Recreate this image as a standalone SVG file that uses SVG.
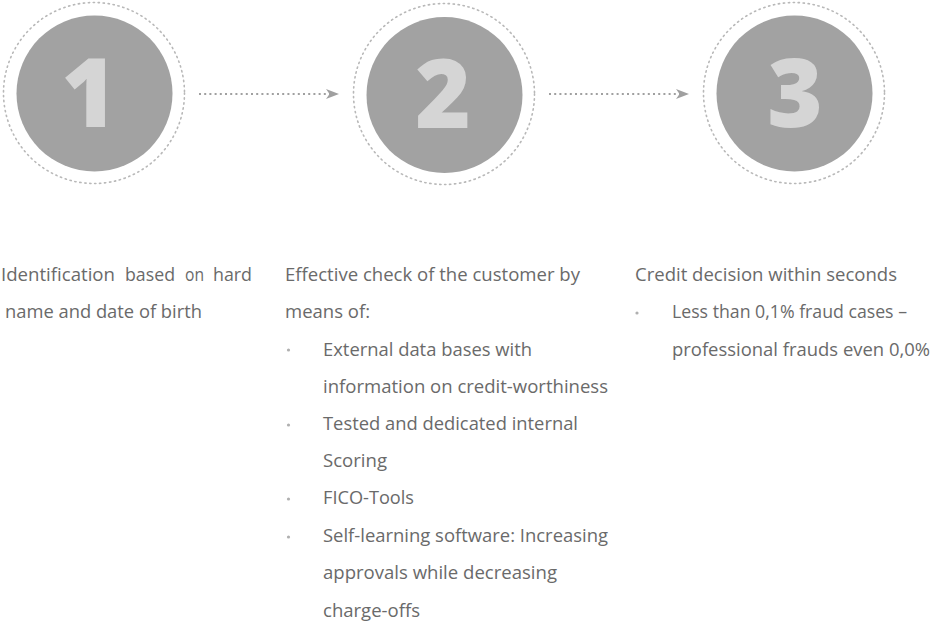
<svg xmlns="http://www.w3.org/2000/svg" width="930" height="621" viewBox="0 0 930 621">
  <style>
    .ring { fill: none; stroke: #b8b8b8; stroke-width: 1.6; stroke-dasharray: 1.3 3.7; stroke-linecap: round; }
    .disc { fill: #a2a2a2; }
    .num { font-family: "Open Sans", "Liberation Sans", sans-serif; font-weight: 800; font-size: 95px; fill: #d5d5d5; text-anchor: middle; }
    .txt { font-family: "Open Sans", "Liberation Sans", sans-serif; font-size: 18.5px; fill: #6a6a6a; }
    .dot { fill: #b0b0b0; }
    .link { fill: none; stroke: #a0a0a0; stroke-width: 2; stroke-dasharray: 2 3.2; }
  </style>
  <defs>
    <marker id="arrow" markerUnits="userSpaceOnUse" markerWidth="16" markerHeight="12" refX="13" refY="6" orient="auto">
      <path d="M0,1 L13,6 L0,11 L3.5,6 Z" fill="#a0a0a0"/>
    </marker>
  </defs>

  <rect width="930" height="621" fill="#ffffff"/>

  <!-- connectors between the steps -->
  <g id="connectors">
    <line class="link" x1="199" y1="94" x2="339" y2="94" marker-end="url(#arrow)"/>
    <line class="link" x1="549" y1="94" x2="689" y2="94" marker-end="url(#arrow)"/>
  </g>

  <!-- step 1 -->
  <g id="step1">
    <circle class="ring" cx="94" cy="93" r="90.5"/>
    <circle class="disc" cx="94.5" cy="93.5" r="78"/>
    <text class="num" x="89" y="127">1</text>
  </g>

  <!-- step 2 -->
  <g id="step2">
    <circle class="ring" cx="444" cy="94" r="90.5"/>
    <circle class="disc" cx="444.5" cy="95" r="78"/>
    <text class="num" x="443" y="128">2</text>
  </g>

  <!-- step 3 -->
  <g id="step3">
    <circle class="ring" cx="794" cy="93" r="90.5"/>
    <circle class="disc" cx="794.5" cy="93.5" r="78"/>
    <text class="num" x="795" y="127">3</text>
  </g>

  <!-- step 1 description (justified first line) -->
  <g id="text1" class="txt" lengthAdjust="spacingAndGlyphs">
    <text x="1" y="281" textLength="114" lengthAdjust="spacingAndGlyphs">Identification</text>
    <text x="125" y="281" textLength="50" lengthAdjust="spacingAndGlyphs">based</text>
    <text x="185" y="281" textLength="19" lengthAdjust="spacingAndGlyphs">on</text>
    <text x="213" y="281" textLength="39" lengthAdjust="spacingAndGlyphs">hard</text>
    <text x="5" y="318" textLength="197" lengthAdjust="spacingAndGlyphs">name and date of birth</text>
  </g>

  <!-- step 2 description -->
  <g id="text2" class="txt">
    <text x="285" y="281" textLength="295" lengthAdjust="spacingAndGlyphs">Effective check of the customer by</text>
    <text x="285" y="318" textLength="85" lengthAdjust="spacingAndGlyphs">means of:</text>
    <circle class="dot" cx="288.5" cy="350" r="1.6"/>
    <text x="323" y="356" textLength="209" lengthAdjust="spacingAndGlyphs">External data bases with</text>
    <text x="323" y="393" textLength="285" lengthAdjust="spacingAndGlyphs">information on credit-worthiness</text>
    <circle class="dot" cx="288.5" cy="425" r="1.6"/>
    <text x="323" y="430" textLength="255" lengthAdjust="spacingAndGlyphs">Tested and dedicated internal</text>
    <text x="323" y="467" textLength="64" lengthAdjust="spacingAndGlyphs">Scoring</text>
    <circle class="dot" cx="288.5" cy="499" r="1.6"/>
    <text x="323" y="504" textLength="91" lengthAdjust="spacingAndGlyphs">FICO-Tools</text>
    <circle class="dot" cx="288.5" cy="537" r="1.6"/>
    <text x="323" y="542" textLength="285" lengthAdjust="spacingAndGlyphs">Self-learning software: Increasing</text>
    <text x="323" y="579" textLength="234" lengthAdjust="spacingAndGlyphs">approvals while decreasing</text>
    <text x="323" y="617" textLength="97" lengthAdjust="spacingAndGlyphs">charge-offs</text>
  </g>

  <!-- step 3 description -->
  <g id="text3" class="txt">
    <text x="635" y="281" textLength="262" lengthAdjust="spacingAndGlyphs">Credit decision within seconds</text>
    <circle class="dot" cx="637" cy="313" r="1.6"/>
    <text x="672" y="318" textLength="235" lengthAdjust="spacingAndGlyphs">Less than 0,1% fraud cases –</text>
    <text x="672" y="356" textLength="258" lengthAdjust="spacingAndGlyphs">professional frauds even 0,0%</text>
  </g>
</svg>
